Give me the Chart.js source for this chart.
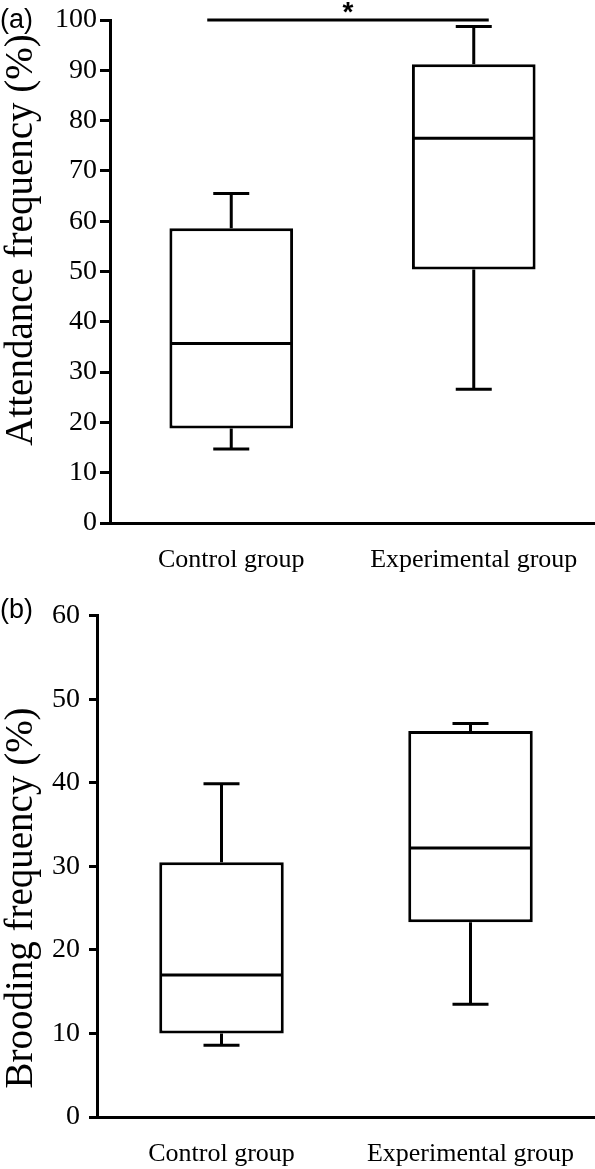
<!DOCTYPE html>
<html>
<head>
<meta charset="utf-8">
<script src="https://cdn.jsdelivr.net/npm/chart.js@4.4.1/dist/chart.umd.min.js"></script>
<style>
  body { margin: 0; background: #fff; }
  canvas { display: block; }
</style>
</head>
<body>
<canvas id="chartA" width="595" height="590"></canvas>
<canvas id="chartB" width="595" height="579"></canvas>
<script>
const groups = ["Control group", "Experimental group"];

// (a) attendance frequency (%)
const attendMin = [14.7, 26.6];
const attendQ1 = [18.8, 50.4];
const attendMedian = [35.7, 76.5];
const attendQ3 = [58.6, 91.2];
const attendMax = [65.5, 98.7];
const attendTicks = [0, 10, 20, 30, 40, 50, 60, 70, 80, 90, 100];
const attendSigAt = 100;

// (b) brooding frequency (%)
const broodMin = [8.6, 13.5];
const broodQ1 = [10.0, 23.3];
const broodMedian = [17.0, 32.2];
const broodQ3 = [30.5, 46.2];
const broodMax = [39.9, 47.1];
const broodTicks = [0, 10, 20, 30, 40, 50, 60];

const serif = "'Liberation Serif', 'Times New Roman', serif";

// whiskers and median lines on top of the floating bars
const boxPlugin = {
    id: 'whiskers',
    afterDatasetsDraw(chart, args, o) {
        const ctx = chart.ctx;
        const y = chart.scales.y;
        const bars = chart.getDatasetMeta(0).data;
        ctx.save();
        ctx.strokeStyle = '#000';
        ctx.lineWidth = 3;
        ctx.lineCap = 'butt';
        bars.forEach((bar, i) => {
            const cx = bar.x;
            const half = bar.width / 2;
            const lo = y.getPixelForValue(o.min[i]);
            const q1 = y.getPixelForValue(o.q1[i]);
            const q3 = y.getPixelForValue(o.q3[i]);
            const hi = y.getPixelForValue(o.max[i]);
            const med = y.getPixelForValue(o.median[i]);
            ctx.beginPath();
            ctx.moveTo(cx, q3); ctx.lineTo(cx, hi);
            ctx.moveTo(cx - o.cap, hi); ctx.lineTo(cx + o.cap, hi);
            ctx.moveTo(cx, q1); ctx.lineTo(cx, lo);
            ctx.moveTo(cx - o.cap, lo); ctx.lineTo(cx + o.cap, lo);
            ctx.moveTo(cx - half + 1, med); ctx.lineTo(cx + half - 1, med);
            ctx.stroke();
        });
        ctx.restore();
    }
};

// panel letter, rotated axis title, significance bar
const textPlugin = {
    id: 'panelText',
    afterDraw(chart, args, o) {
        const ctx = chart.ctx;
        ctx.save();
        ctx.fillStyle = '#000';
        ctx.font = "27px 'Liberation Sans', Arial, sans-serif";
        ctx.textBaseline = 'alphabetic';
        ctx.textAlign = 'left';
        ctx.fillText(o.letter, 0, 28);

        if (o.sigAt !== undefined) {
            const x = chart.scales.x;
            const yy = chart.scales.y.getPixelForValue(o.sigAt);
            const x1 = x.getPixelForValue(0) - 24;
            const x2 = x.getPixelForValue(1) + 15;
            ctx.strokeStyle = '#000';
            ctx.lineWidth = 3;
            ctx.beginPath();
            ctx.moveTo(x1, yy); ctx.lineTo(x2, yy);
            ctx.stroke();
            ctx.font = "bold 28px 'Liberation Sans', Arial, sans-serif";
            ctx.textAlign = 'center';
            ctx.fillText('*', (x1 + x2) / 2, yy + 1);
        }

        ctx.translate(o.titleX, o.titleY);
        ctx.rotate(-Math.PI / 2);
        ctx.font = '39px ' + serif;
        ctx.textAlign = 'center';
        ctx.textBaseline = 'middle';
        ctx.fillText(o.title, 0, 0);
        ctx.restore();
    }
};

function makeChart(id, s) {
    return new Chart(document.getElementById(id), {
        type: 'bar',
        data: {
            labels: groups,
            datasets: [{
                data: s.q1.map((q, i) => [q, s.q3[i]]),
                backgroundColor: '#fff',
                borderColor: '#000',
                borderWidth: 3,
                borderSkipped: false,
                barPercentage: s.barPct,
                categoryPercentage: 1
            }]
        },
        options: {
            responsive: false,
            animation: false,
            devicePixelRatio: 1,
            layout: { padding: { top: s.padTop, left: 0, right: 0, bottom: 0 } },
            scales: {
                x: {
                    afterFit: scale => { scale.height = s.xHeight; },
                    border: { display: true, color: '#000', width: 3 },
                    grid: { display: false },
                    ticks: { color: '#000', font: { family: serif, size: 26 }, padding: s.xPad, maxRotation: 0 }
                },
                y: {
                    min: s.ticks[0],
                    max: s.ticks[s.ticks.length - 1],
                    afterBuildTicks: scale => { scale.ticks = s.ticks.map(v => ({ value: v })); },
                    afterFit: scale => { scale.width = s.yWidth; },
                    border: { display: true, color: '#000', width: 3 },
                    grid: { display: true, drawOnChartArea: false, drawTicks: true, tickLength: s.tickLen, tickWidth: 3, tickColor: '#000' },
                    ticks: { color: '#000', font: { family: serif, size: 28 }, padding: s.yPad }
                }
            },
            plugins: {
                legend: { display: false },
                tooltip: { enabled: false },
                whiskers: { min: s.min, q1: s.q1, median: s.median, q3: s.q3, max: s.max, cap: 18 },
                panelText: { letter: s.letter, title: s.title, titleX: 22, titleY: s.titleY, sigAt: s.sigAt }
            }
        },
        plugins: [boxPlugin, textPlugin]
    });
}

makeChart('chartA', {
    min: attendMin, q1: attendQ1, median: attendMedian, q3: attendQ3, max: attendMax,
    ticks: attendTicks, sigAt: attendSigAt,
    letter: '(a)', title: 'Attendance frequency (%)', titleY: 240,
    padTop: 20, xHeight: 67, yWidth: 110, tickLen: 10, yPad: 3, xPad: 14, barPct: 0.51
});

makeChart('chartB', {
    min: broodMin, q1: broodQ1, median: broodMedian, q3: broodQ3, max: broodMax,
    ticks: broodTicks,
    letter: '(b)', title: 'Brooding frequency (%)', titleY: 308,
    padTop: 24, xHeight: 52, yWidth: 97, tickLen: 8, yPad: 9, xPad: 14, barPct: 0.50
});
</script>
</body>
</html>
